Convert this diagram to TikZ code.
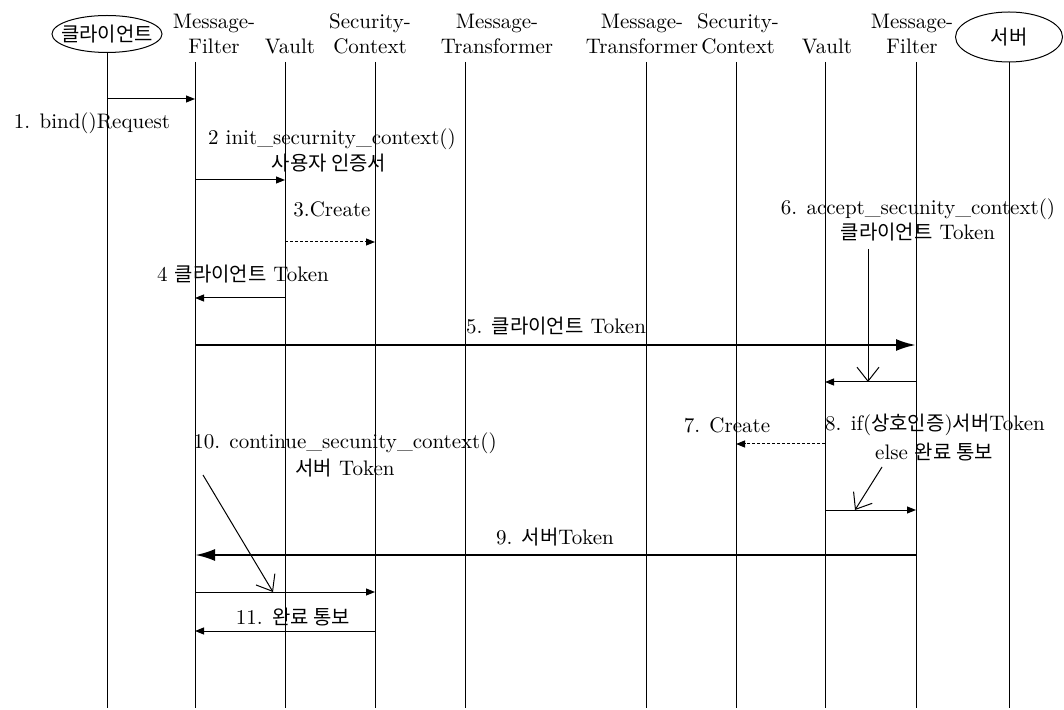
\documentclass[tikz,border=0pt]{standalone}
\usepackage{fontspec}
\newfontfamily\kr[Scale=0.95]{Noto Sans CJK KR}
\usetikzlibrary{arrows.meta,shapes.geometric}

\tikzset{
  lifeline/.style={line width=0.5pt},
  msg/.style={-{Triangle[length=4.5pt,width=3.5pt]}, line width=0.5pt},
  bigmsg/.style={-{Latex[length=10pt,width=6pt]}, line width=1.3pt},
  create/.style={msg, dash pattern=on 1.5pt off 1pt},
  note/.style={-{Straight Barb[length=7pt,width=11pt]}, line width=0.5pt},
  actor/.style={ellipse, draw, line width=0.5pt, inner xsep=-6pt},
}

\begin{document}
\begin{tikzpicture}[x=0.5pt, y=-0.5pt,
    every node/.style={inner sep=0pt, align=center, font=\fontsize{10.5}{12.5}\selectfont}]
    \path[use as bounding box] (0,0) rectangle (1064,710);

    % actors and headers
    \node[actor, minimum width=55pt, minimum height=18.5pt] (client) at (107,34) {{\kr 클라이언트}};
    \node[actor, minimum width=53.5pt, minimum height=25pt] (server) at (1009,37) {{\kr 서버}};
    \node (hmf1) at (214,34) {Message-\\Filter};
    \node (hv1)  at (290,46) {Vault};
    \node (hsc1) at (370,34) {Security-\\Context};
    \node (hmt1) at (497,34) {Message-\\Transformer};
    \node (hmt2) at (642,34) {Message-\\Transformer};
    \node (hsc2) at (738,34) {Security-\\Context};
    \node (hv2)  at (827,46) {Vault};
    \node (hmf2) at (912,34) {Message-\\Filter};

    % lifelines
    \coordinate (bot) at (0,708);
    \foreach \n/\x in {mf1/195, v1/285, sc1/375, mt1/465, mt2/646, sc2/736, v2/825, mf2/916}
        \coordinate (\n) at (\x,62);
    \foreach \n in {mf1, v1, sc1, mt1, mt2, sc2, v2, mf2}
        \draw[lifeline] (\n) -- (\n |- bot);
    \coordinate (cl) at (client.south);
    \coordinate (sv) at (server.south);
    \draw[lifeline] (cl) -- (cl |- bot);
    \draw[lifeline] (sv) -- (sv |- bot);

    % message rows
    \foreach \r/\y in {r1/99, r2/180, r3/242, r4/298, r5/345, r6/382, r7/444, r8/510, r9/555, r10/592, r11/631}
        \coordinate (\r) at (0,\y);

    \draw[msg]    (cl |- r1)  -- (mf1 |- r1);
    \draw[msg]    (mf1 |- r2) -- (v1 |- r2);
    \draw[create] (v1 |- r3)  -- (sc1 |- r3);
    \draw[msg]    (v1 |- r4)  -- (mf1 |- r4);
    \draw[bigmsg] (mf1 |- r5) -- (mf2 |- r5);
    \draw[msg]    (mf2 |- r6) -- (v2 |- r6);
    \draw[create] (v2 |- r7)  -- (sc2 |- r7);
    \draw[msg]    (v2 |- r8)  -- (mf2 |- r8);
    \draw[bigmsg] (mf2 |- r9) -- (mf1 |- r9);
    \draw[msg]    (mf1 |- r10) -- (sc1 |- r10);
    \draw[msg]    (sc1 |- r11) -- (mf1 |- r11);

    % labels
    \node (l1)  at (92,123)  {1. bind()Request};
    \node (l2a) at (332,139) {2 init\_securnity\_context()};
    \node (l2b) at (329,163) {{\kr 사용자 인증서}};
    \node (l3)  at (332,209) {3.Create};
    \node (l4)  at (243,274) {4 {\kr 클라이언트} Token};
    \node (l5)  at (556,326) {5. {\kr 클라이언트} Token};
    \node (l6a) at (918,209) {6. accept\_secunity\_context()};
    \node (l6b) at (918,232) {{\kr 클라이언트} Token};
    \node (l7)  at (727,425) {7. Create};
    \node (l8a) at (935,425) {8. if({\kr 상호인증}){\kr 서버}Token};
    \node (l8b) at (934,452) {else {\kr 완료 통보}};
    \node (l9)  at (555,537) {9. {\kr 서버}Token};
    \node (l10a) at (345,443) {10. continue\_secunity\_context()};
    \node (l10b) at (345,468) {{\kr 서버} Token};
    \node (l11) at (293,617) {11. {\kr 완료 통보}};

    % call notes
    \coordinate (n6) at (868,249);
    \coordinate (n8) at (882,467);
    \coordinate (t8) at (855,0);
    \coordinate (n10) at (203,475);
    \coordinate (t10) at (273,0);
    \draw[note] (n6) -- (n6 |- r6);
    \draw[note] (n8) -- (t8 |- r8);
    \draw[note] (n10) -- (t10 |- r10);
\end{tikzpicture}
\end{document}
